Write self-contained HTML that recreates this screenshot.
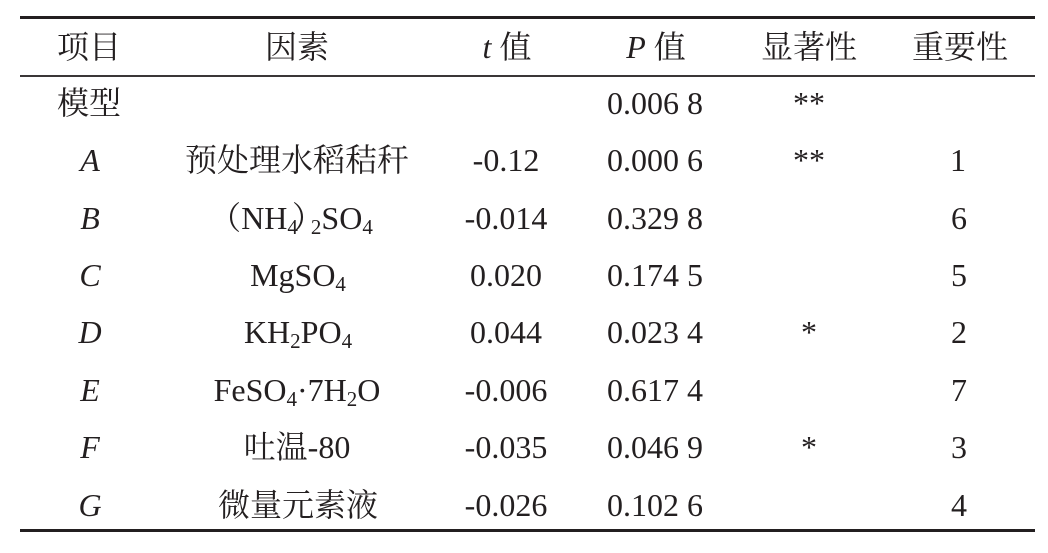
<!DOCTYPE html>
<html>
<head>
<meta charset="utf-8">
<style>
  html, body { margin: 0; padding: 0; background: #ffffff; }
  body { width: 1048px; height: 553px; position: relative; overflow: hidden; }
  .c {
    position: absolute;
    width: 260px;
    height: 40px;
    line-height: 40px;
    text-align: center;
    white-space: nowrap;
    font-family: "Liberation Serif", "Noto Serif CJK SC", serif;
    font-size: 32px;
    color: #231f20;
  }
  .i { font-style: italic; }
  .s { font-size: 21px; vertical-align: -5px; line-height: 0; }
  .rule { position: absolute; left: 20px; width: 1015px; background: #231f20; }
  .lp { margin-left: -16px; }
  .rp { margin-left: -6px; margin-right: -13px; }
</style>
</head>
<body>
  <div class="rule" style="top:16px;height:3px;"></div>
  <div class="rule" style="top:75px;height:2px;background:#3a3637;"></div>
  <div class="rule" style="top:529px;height:3px;"></div>

  <!-- header -->
  <div class="c" style="left:-41px;top:27px;">项目</div>
  <div class="c" style="left:167px;top:27px;">因素</div>
  <div class="c" style="left:377px;top:27px;"><span class="i">t</span> 值</div>
  <div class="c" style="left:526px;top:27px;"><span class="i">P</span> 值</div>
  <div class="c" style="left:679px;top:27px;">显著性</div>
  <div class="c" style="left:830px;top:27px;">重要性</div>

  <!-- row: 模型 -->
  <div class="c" style="left:-41px;top:83px;">模型</div>
  <div class="c" style="left:525px;top:83px;">0.006 8</div>
  <div class="c" style="left:679px;top:83px;">**</div>

  <!-- row A -->
  <div class="c i" style="left:-40px;top:140px;">A</div>
  <div class="c" style="left:167px;top:140px;">预处理水稻秸秆</div>
  <div class="c" style="left:376px;top:140px;">-0.12</div>
  <div class="c" style="left:525px;top:140px;">0.000 6</div>
  <div class="c" style="left:679px;top:140px;">**</div>
  <div class="c" style="left:828px;top:140px;">1</div>

  <!-- row B -->
  <div class="c i" style="left:-40px;top:198px;">B</div>
  <div class="c" style="left:169px;top:198px;"><span class="lp">（</span>NH<span class="s">4</span><span class="rp">）</span><span class="s">2</span>SO<span class="s">4</span></div>
  <div class="c" style="left:376px;top:198px;">-0.014</div>
  <div class="c" style="left:525px;top:198px;">0.329 8</div>
  <div class="c" style="left:829px;top:198px;">6</div>

  <!-- row C -->
  <div class="c i" style="left:-40px;top:255px;">C</div>
  <div class="c" style="left:168px;top:255px;">MgSO<span class="s">4</span></div>
  <div class="c" style="left:376px;top:255px;">0.020</div>
  <div class="c" style="left:525px;top:255px;">0.174 5</div>
  <div class="c" style="left:829px;top:255px;">5</div>

  <!-- row D -->
  <div class="c i" style="left:-40px;top:312px;">D</div>
  <div class="c" style="left:168px;top:312px;">KH<span class="s">2</span>PO<span class="s">4</span></div>
  <div class="c" style="left:376px;top:312px;">0.044</div>
  <div class="c" style="left:525px;top:312px;">0.023 4</div>
  <div class="c" style="left:679px;top:312px;">*</div>
  <div class="c" style="left:829px;top:312px;">2</div>

  <!-- row E -->
  <div class="c i" style="left:-40px;top:370px;">E</div>
  <div class="c" style="left:167px;top:370px;">FeSO<span class="s">4</span>·7H<span class="s">2</span>O</div>
  <div class="c" style="left:376px;top:370px;">-0.006</div>
  <div class="c" style="left:525px;top:370px;">0.617 4</div>
  <div class="c" style="left:829px;top:370px;">7</div>

  <!-- row F -->
  <div class="c i" style="left:-40px;top:427px;">F</div>
  <div class="c" style="left:167px;top:427px;">吐温-80</div>
  <div class="c" style="left:376px;top:427px;">-0.035</div>
  <div class="c" style="left:525px;top:427px;">0.046 9</div>
  <div class="c" style="left:679px;top:427px;">*</div>
  <div class="c" style="left:829px;top:427px;">3</div>

  <!-- row G -->
  <div class="c i" style="left:-40px;top:485px;">G</div>
  <div class="c" style="left:168px;top:485px;">微量元素液</div>
  <div class="c" style="left:376px;top:485px;">-0.026</div>
  <div class="c" style="left:525px;top:485px;">0.102 6</div>
  <div class="c" style="left:829px;top:485px;">4</div>
</body>
</html>
